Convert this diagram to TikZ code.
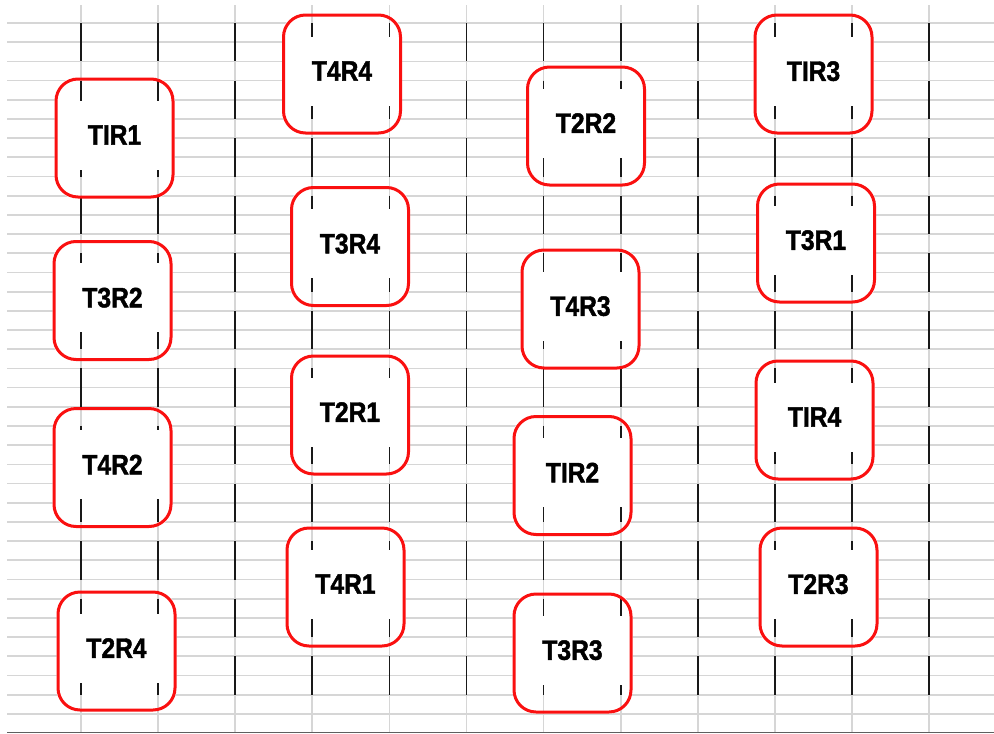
\documentclass[tikz,border=0pt]{standalone}
\usepackage{fontspec}
\newfontfamily\tagfont{Liberation Sans}[FakeStretch=0.88, FakeBold=1.6]
\usetikzlibrary{backgrounds}

\definecolor{gridgray}{RGB}{214,214,214}
\definecolor{dashblack}{RGB}{25,25,25}
\definecolor{axisgray}{RGB}{95,95,95}
\definecolor{tagred}{RGB}{250,16,16}

\begin{document}
\begin{tikzpicture}[
		x=1pt, y=-1pt,
		gridline/.style={draw=gridgray, line width=1.7pt},
		dashline/.style={draw=dashblack, line width=1.7pt},
		tag/.style={
			draw=tagred,
			line width=3pt,
			rounded corners=22pt,
			minimum width=117pt,
			minimum height=118pt,
			inner sep=0pt,
			text depth=6pt,
			font=\tagfont\bfseries\fontsize{28}{28}\selectfont
		}
		]
		
		\useasboundingbox (0,0) rectangle (994,734);
		
		% Column 1
		\node[tag] (t1r1) at (114.5,138) {TIR1};
		\node[tag] (t3r2) at (112.5,300.5) {T3R2};
		\node[tag] (t4r2) at (112.5,467.5) {T4R2};
		\node[tag] (t2r4) at (116.5,651) {T2R4};
		
		% Column 2
		\node[tag] (t4r4) at (342,74) {T4R4};
		\node[tag] (t3r4) at (350,246.5) {T3R4};
		\node[tag] (t2r1) at (350,415) {T2R1};
		\node[tag] (t4r1) at (345.5,587) {T4R1};
		
		% Column 3
		\node[tag] (t2r2) at (586,126) {T2R2};
		\node[tag] (t4r3) at (580.5,309) {T4R3};
		\node[tag] (t1r2) at (572.5,475.5) {TIR2};
		\node[tag] (t3r3) at (572.5,653) {T3R3};
		
		% Column 4
		\node[tag] (t1r3) at (813.5,74) {TIR3};
		\node[tag] (t3r1) at (816,243) {T3R1};
		\node[tag] (t1r4) at (814.5,420) {TIR4};
		\node[tag] (t2r3) at (818.5,587) {T2R3};
		
		\begin{scope}[on background layer]
			% Horizontal rules
			\foreach \k in {0,...,36}
			\draw[gridline] (7,{23+19.19*\k}) -- (994,{23+19.19*\k});
			\draw[draw=axisgray, line width=1.5pt] (7,732.5) -- (994,732.5);
			
			% Box backgrounds
			\foreach \n in {t1r1,t3r2,t4r2,t2r4,t4r4,t3r4,t2r1,t4r1,t2r2,t4r3,t1r2,t3r3,t1r3,t3r1,t1r4,t2r3}
			\fill[white, rounded corners=22pt] (\n.north west) rectangle (\n.south east);
			
			% Vertical rules and dashes
			\foreach \i in {0,...,11}{
				\draw[gridline] ({81+77.1*\i},5) -- ({81+77.1*\i},732);
				\foreach \j in {0,...,11}
				\draw[dashline] ({81+77.1*\i},{23+57.57*\j}) -- ({81+77.1*\i},{61.4+57.57*\j});
			}
			
			% Label panels
			\foreach \n in {t1r1,t3r2,t4r2,t2r4,t4r4,t3r4,t2r1,t4r1,t2r2,t4r3,t1r2,t3r3,t1r3,t3r1,t1r4,t2r3}
			\fill[white] ([shift={(8,23)}]\n.north west) rectangle ([shift={(-8,-29)}]\n.south east);
		\end{scope}
		
	\end{tikzpicture}
\end{document}
